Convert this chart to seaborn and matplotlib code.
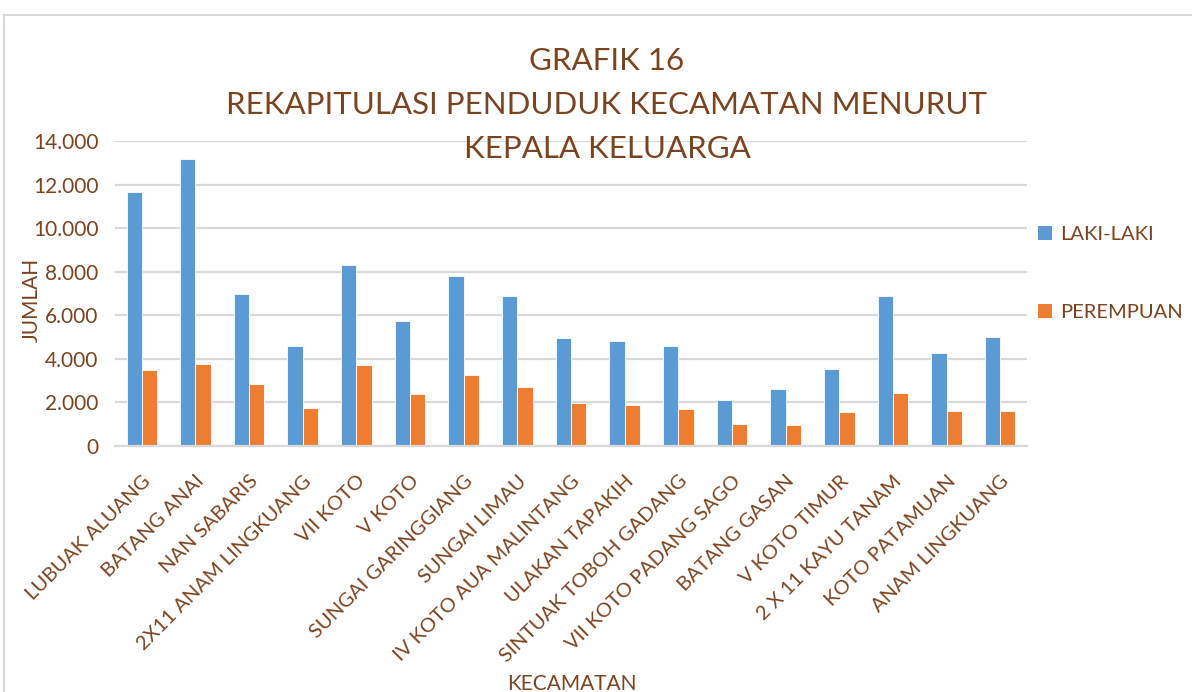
import matplotlib
matplotlib.use("Agg")
import matplotlib.pyplot as plt
import seaborn as sns
import pandas as pd
from matplotlib.patches import Rectangle, Patch
from matplotlib.ticker import FuncFormatter, FixedLocator

categories = ["LUBUAK ALUANG", "BATANG ANAI", "NAN SABARIS", "2X11 ANAM LINGKUANG",
              "VII KOTO", "V KOTO", "SUNGAI GARINGGIANG", "SUNGAI LIMAU",
              "IV KOTO AUA MALINTANG", "ULAKAN TAPAKIH", "SINTUAK TOBOH GADANG",
              "VII KOTO PADANG SAGO", "BATANG GASAN", "V KOTO TIMUR",
              "2 X 11 KAYU TANAM", "KOTO PATAMUAN", "ANAM LINGKUANG"]
laki = [11650, 13160, 6980, 4575, 8295, 5755, 7800, 6885, 4960, 4820, 4605,
        2125, 2600, 3535, 6900, 4285, 4990]
perempuan = [3490, 3750, 2860, 1730, 3700, 2370, 3245, 2710, 1975, 1865, 1715,
             1025, 980, 1560, 2420, 1605, 1620]
series = ["LAKI-LAKI", "PEREMPUAN"]
colors = ["#5B9BD5", "#ED7D31"]

TXT = "#7A4420"
GRID = "#D9D9D9"

df = pd.DataFrame({
    "KECAMATAN": categories * 2,
    "JUMLAH": laki + perempuan,
    "series": [series[0]] * len(categories) + [series[1]] * len(categories),
})

sns.set_style("white")
plt.rcParams["font.family"] = ["Lato", "DejaVu Sans"]

fig = plt.figure(figsize=(11.92, 6.92), dpi=100)
ax = fig.add_axes([115 / 1192, 1 - 446 / 692, (1027 - 115) / 1192, (446 - 141) / 692])

sns.barplot(data=df, x="KECAMATAN", y="JUMLAH", hue="series", palette=colors,
            width=0.57, gap=0, ax=ax, legend=False, edgecolor="white", linewidth=0.6,
            saturation=1)

ax.set_ylim(0, 14000)
ax.set_xlim(-0.5, len(categories) - 0.5)
ax.yaxis.set_major_locator(FixedLocator(range(0, 14001, 2000)))
ax.yaxis.set_major_formatter(FuncFormatter(lambda v, p: f"{int(v):,}".replace(",", ".")))
ax.grid(axis="y", color=GRID, linewidth=1.6)
ax.set_axisbelow(True)
for s in ["top", "right", "left"]:
    ax.spines[s].set_visible(False)
ax.spines["bottom"].set_color(GRID)
ax.spines["bottom"].set_linewidth(1.6)

ax.tick_params(axis="y", length=0, labelsize=15, labelcolor=TXT, pad=12)
ax.set_xticks(range(len(categories)))
ax.set_xticklabels(categories, rotation=45, ha="right", rotation_mode="anchor")
ax.tick_params(axis="x", which="major", length=0, labelsize=14.5, labelcolor=TXT, pad=19)
ax.set_xticks([i - 0.5 for i in range(len(categories) + 1)], minor=True)
ax.tick_params(axis="x", which="minor", length=7, width=1.6, color=GRID, direction="out")

ax.set_xlabel("")
ax.set_ylabel("")
fig.text(32 / 1192, 1 - 300 / 692, "JUMLAH", rotation=90, ha="center", va="center",
         fontsize=15, color=TXT)
fig.text(572 / 1192, 1 - 684 / 692, "KECAMATAN", ha="center", va="center",
         fontsize=15, color=TXT)

fig.text(607 / 1192, 1 - 105 / 692,
         "GRAFIK 16\nREKAPITULASI PENDUDUK KECAMATAN MENURUT\nKEPALA KELUARGA",
         ha="center", va="center", fontsize=22.5, color=TXT, linespacing=1.68)

handles = [Patch(facecolor=c, edgecolor="none") for c in colors]
leg = fig.legend(handles, series, loc="upper left",
                 bbox_to_anchor=(1030 / 1192, 1 - 218 / 692), frameon=False,
                 fontsize=14.5, labelspacing=3.0, handlelength=0.7, handleheight=0.7,
                 handletextpad=0.4, borderaxespad=0)
for t in leg.get_texts():
    t.set_color(TXT)

fig.patches.append(Rectangle((4 / 1192, -0.05), 1.2, 1 - 15 / 692 + 0.05,
                             transform=fig.transFigure, fill=False,
                             edgecolor=GRID, linewidth=1.5))

fig.savefig("out.png", dpi=100, facecolor="white")
